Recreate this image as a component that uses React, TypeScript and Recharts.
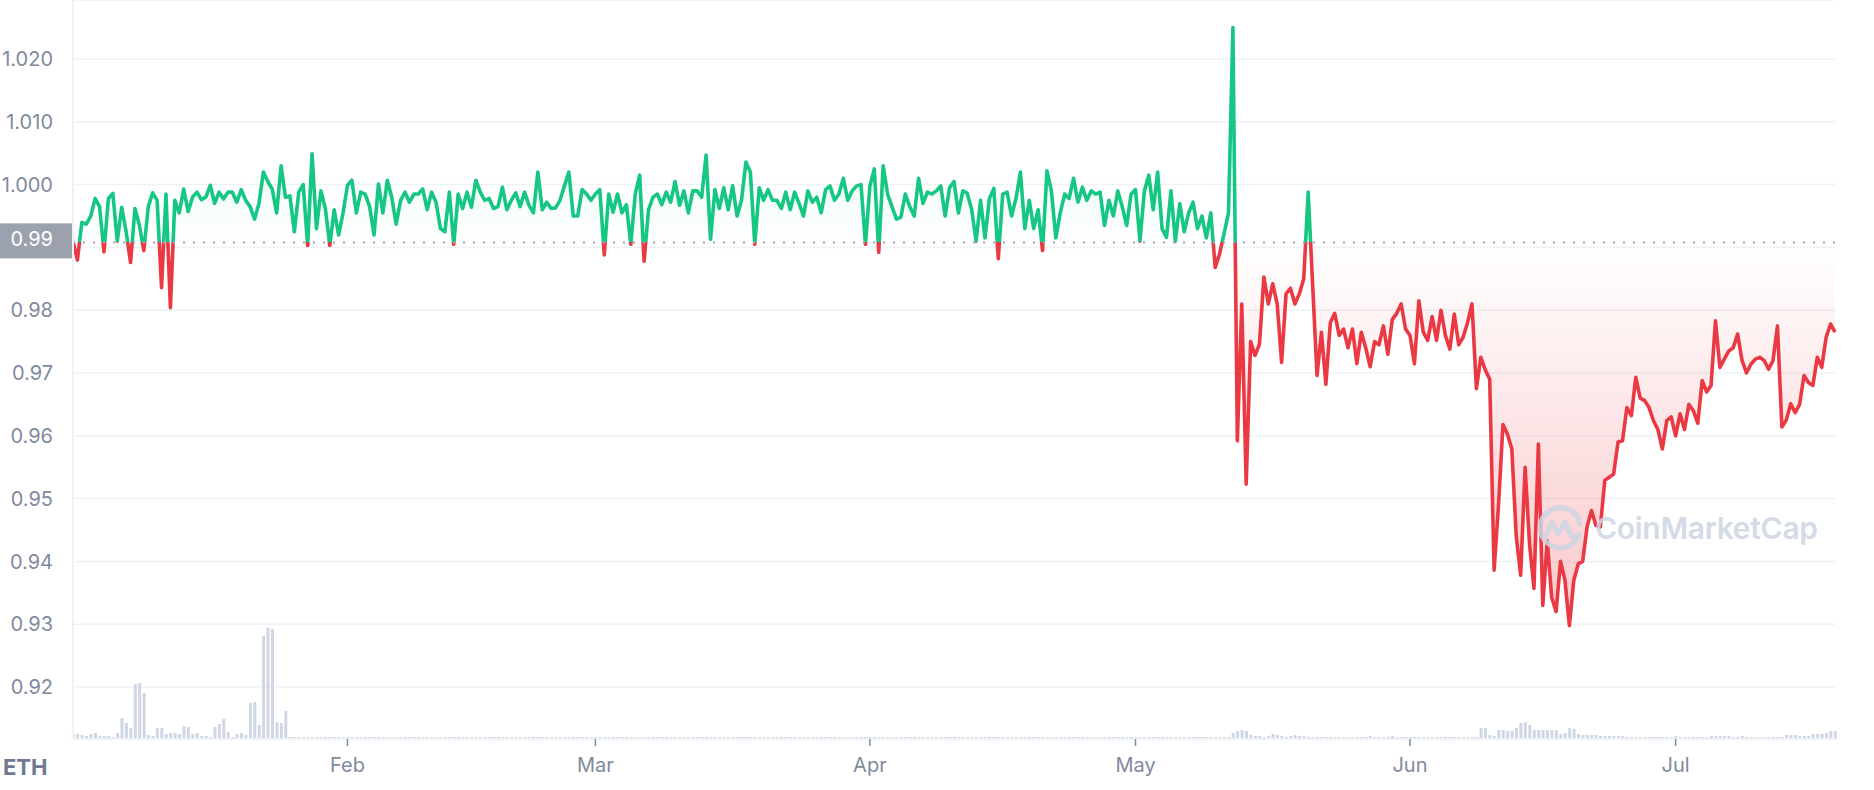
import {
  ComposedChart,
  Area,
  Bar,
  XAxis,
  YAxis,
  CartesianGrid,
  ReferenceLine,
} from "recharts";

// stETH / ETH, two samples per day, 1 Jan -> 18 Jul
const price = [
  0.9910, 0.9880, 0.9940, 0.9937, 0.9950, 0.9978, 0.9965, 0.9893, 0.9978, 0.9986,
  0.9910, 0.9964, 0.9925, 0.9876, 0.9962, 0.9935, 0.9895, 0.9965, 0.9987, 0.9975,
  0.9836, 0.9985, 0.9804, 0.9975, 0.9955, 0.9993, 0.9957, 0.9980, 0.9988, 0.9976,
  0.9980, 0.9999, 0.9970, 0.9988, 0.9977, 0.9988, 0.9988, 0.9972, 0.9992, 0.9975,
  0.9965, 0.9945, 0.9970, 1.0020, 1.0005, 0.9993, 0.9955, 1.0030, 0.9980, 0.9982,
  0.9925, 0.9988, 1.0000, 0.9903, 1.0049, 0.9930, 0.9990, 0.9962, 0.9903, 0.9960,
  0.9920, 0.9955, 0.9999, 1.0007, 0.9955, 0.9988, 0.9985, 0.9965, 0.9920, 1.0001,
  0.9955, 1.0007, 0.9980, 0.9937, 0.9975, 0.9988, 0.9972, 0.9985, 0.9985, 0.9993,
  0.9960, 0.9988, 0.9972, 0.9930, 0.9925, 0.9988, 0.9905, 0.9985, 0.9962, 0.9988,
  0.9964, 1.0007, 0.9988, 0.9975, 0.9978, 0.9962, 0.9965, 0.9996, 0.9960, 0.9975,
  0.9987, 0.9965, 0.9988, 0.9967, 0.9955, 1.0020, 0.9960, 0.9972, 0.9962, 0.9963,
  0.9975, 0.9998, 1.0020, 0.9950, 0.9950, 0.9992, 0.9985, 0.9975, 0.9985, 0.9992,
  0.9888, 0.9985, 0.9956, 0.9985, 0.9955, 0.9968, 0.9905, 0.9985, 1.0015, 0.9878,
  0.9960, 0.9980, 0.9985, 0.9968, 0.9988, 0.9972, 1.0005, 0.9967, 0.9990, 0.9955,
  0.9990, 0.9990, 0.9980, 1.0047, 0.9913, 0.9992, 0.9962, 0.9995, 0.9960, 0.9998,
  0.9950, 0.9975, 1.0036, 1.0020, 0.9905, 0.9995, 0.9975, 0.9992, 0.9975, 0.9975,
  0.9962, 0.9988, 0.9960, 0.9988, 0.9970, 0.9950, 0.9990, 0.9972, 0.9980, 0.9955,
  0.9992, 0.9998, 0.9975, 0.9985, 1.0010, 0.9975, 0.9990, 0.9998, 1.0000, 0.9905,
  0.9998, 1.0025, 0.9892, 1.0030, 0.9985, 0.9965, 0.9945, 0.9948, 0.9985, 0.9965,
  0.9950, 1.0010, 0.9970, 0.9988, 0.9985, 0.9990, 0.9998, 0.9950, 0.9995, 1.0005,
  0.9955, 0.9990, 0.9986, 0.9960, 0.9910, 0.9975, 0.9915, 0.9978, 0.9994, 0.9882,
  0.9985, 0.9988, 0.9950, 0.9978, 1.0020, 0.9930, 0.9975, 0.9930, 0.9960, 0.9895,
  1.0022, 0.9990, 0.9915, 0.9955, 0.9985, 0.9978, 1.0010, 0.9972, 0.9996, 0.9975,
  0.9990, 0.9985, 0.9988, 0.9935, 0.9975, 0.9950, 0.9990, 0.9965, 0.9935, 0.9985,
  0.9992, 0.9910, 0.9990, 1.0015, 0.9960, 1.0020, 0.9930, 0.9916, 0.9990, 0.9910,
  0.9970, 0.9925, 0.9955, 0.9972, 0.9930, 0.9950, 0.9915, 0.9955, 0.9868, 0.9890,
  0.9922, 0.9955, 1.0250, 0.9592, 0.9810, 0.9523, 0.9750, 0.9728, 0.9746, 0.9853,
  0.9810, 0.9842, 0.9810, 0.9717, 0.9826, 0.9835, 0.9810, 0.9826, 0.9850, 0.9988,
  0.9842, 0.9696, 0.9765, 0.9682, 0.9780, 0.9795, 0.9760, 0.9770, 0.9740, 0.9770,
  0.9715, 0.9765, 0.9740, 0.9710, 0.9750, 0.9745, 0.9775, 0.9730, 0.9785, 0.9795,
  0.9810, 0.9770, 0.9760, 0.9715, 0.9815, 0.9765, 0.9752, 0.9790, 0.9752, 0.9800,
  0.9760, 0.9738, 0.9794, 0.9745, 0.9757, 0.9780, 0.9810, 0.9675, 0.9725, 0.9705,
  0.9690, 0.9386, 0.9490, 0.9618, 0.9603, 0.9579, 0.9440, 0.9378, 0.9550, 0.9428,
  0.9357, 0.9587, 0.9330, 0.9433, 0.9343, 0.9320, 0.9400, 0.9370, 0.9298, 0.9370,
  0.9396, 0.9400, 0.9455, 0.9481, 0.9457, 0.9455, 0.9529, 0.9534, 0.9539, 0.9590,
  0.9592, 0.9645, 0.9632, 0.9693, 0.9660, 0.9656, 0.9645, 0.9624, 0.9610, 0.9579,
  0.9624, 0.9630, 0.9600, 0.9635, 0.9610, 0.9650, 0.9640, 0.9620, 0.9688, 0.9670,
  0.9680, 0.9783, 0.9709, 0.9722, 0.9735, 0.9740, 0.9762, 0.9720, 0.9700, 0.9714,
  0.9722, 0.9725, 0.9720, 0.9706, 0.9720, 0.9775, 0.9614, 0.9625, 0.9651, 0.9637,
  0.9650, 0.9696, 0.9685, 0.9680, 0.9725, 0.9709, 0.9757, 0.9778, 0.9765,
];

// volume, relative units (no axis shown)
const volume = [
  5, 5, 4, 3, 5, 6, 3, 3, 3, 2,
  6, 21, 16, 11, 55, 56, 46, 4, 3, 11,
  11, 5, 6, 6, 5, 13, 12, 5, 6, 3,
  3, 2, 12, 15, 20, 7, 2, 5, 6, 4,
  36, 37, 14, 103, 111, 110, 17, 16, 28, 2,
  2, 2, 2, 2, 2, 2, 2, 2, 2, 2,
  2, 2, 2, 2, 2, 2, 2, 2, 2, 2,
  2, 2, 2, 2, 2, 2, 2, 2, 2, 2,
  2, 2, 2, 2, 2, 2, 2, 2, 2, 2,
  2, 2, 2, 2, 2, 2, 2, 2, 2, 2,
  2, 2, 2, 2, 2, 2, 2, 2, 2, 2,
  2, 2, 2, 2, 2, 2, 2, 2, 2, 2,
  2, 2, 2, 2, 2, 2, 2, 2, 2, 2,
  2, 2, 2, 2, 2, 2, 2, 2, 2, 2,
  2, 2, 2, 2, 2, 2, 2, 2, 2, 2,
  2, 2, 2, 2, 2, 2, 2, 2, 2, 2,
  2, 2, 2, 2, 2, 2, 2, 2, 2, 2,
  2, 2, 2, 2, 2, 2, 2, 2, 2, 2,
  2, 2, 2, 2, 2, 2, 2, 2, 2, 2,
  2, 2, 2, 2, 2, 2, 2, 2, 2, 2,
  2, 2, 2, 2, 2, 2, 2, 2, 2, 2,
  2, 2, 2, 2, 2, 2, 2, 2, 2, 2,
  2, 2, 2, 2, 2, 2, 2, 2, 2, 2,
  2, 2, 2, 2, 2, 2, 2, 2, 2, 2,
  2, 2, 2, 2, 2, 2, 2, 2, 2, 2,
  2, 2, 2, 2, 2, 2, 2, 2, 2, 2,
  2, 2, 6, 8, 9, 8, 4, 3, 3, 2,
  3, 5, 4, 3, 2, 3, 4, 3, 3, 2,
  2, 2, 2, 2, 2, 2, 2, 2, 2, 2,
  2, 2, 2, 3, 2, 2, 2, 2, 3, 2,
  2, 2, 2, 2, 2, 2, 2, 2, 2, 2,
  2, 2, 2, 2, 2, 2, 2, 2, 11, 11,
  4, 3, 9, 9, 8, 8, 11, 16, 17, 14,
  9, 9, 9, 9, 9, 9, 5, 6, 11, 10,
  5, 4, 4, 4, 4, 3, 3, 3, 3, 3,
  3, 2, 2, 2, 2, 2, 2, 2, 2, 2,
  2, 2, 3, 2, 2, 2, 2, 2, 2, 2,
  3, 3, 3, 3, 3, 2, 2, 3, 2, 2,
  2, 2, 2, 2, 2, 2, 2, 4, 4, 4,
  3, 3, 3, 5, 5, 5, 6, 8, 8,
];

// index of the first sample of each month
const monthTicks = [62, 118, 180, 240, 302, 362];
const monthLabels = ["Feb", "Mar", "Apr", "May", "Jun", "Jul"];

const priceTicks = [0.92, 0.93, 0.94, 0.95, 0.96, 0.97, 0.98, 0.99, 1.0, 1.01, 1.02];
const openPrice = 0.9908;

const GREEN = "#16c784";
const RED = "#ea3943";
const GRAY = "#808a9d";
const GRID = "#eff2f5";

const data = price.map((p, i) => ({ i, price: p, volume: volume[i] }));

const pMax = Math.max(...price);
const pMin = Math.min(...price);
// where the open price falls inside the line's bounding box
const split = (pMax - openPrice) / (pMax - pMin);
const volMax = Math.max(...volume);

const fmtPrice = (v: number) => {
  if (v === 0.99) return ""; // hidden under the open price tag
  return v >= 1 ? v.toFixed(3) : v.toFixed(2);
};

// grey tag on the y axis showing the open price
function PriceTag(props: any) {
  const vb = props.viewBox || {};
  const x = vb.x ?? 73;
  const y = vb.y ?? 0;
  return (
    <g>
      <rect x={x - 73} y={y - 19} width={73} height={35} fill="#9ba1ad" />
      <text
        x={x - 20}
        y={y - 1.5}
        textAnchor="end"
        dominantBaseline="middle"
        fill="#ffffff"
        fontSize={20}
        fontFamily="Inter, sans-serif"
      >
        {openPrice.toFixed(2)}
      </text>
    </g>
  );
}

function Watermark() {
  return (
    <div
      style={{
        position: "absolute",
        left: 1535,
        top: 503,
        display: "flex",
        alignItems: "center",
        gap: 10,
        opacity: 0.85,
        pointerEvents: "none",
      }}
    >
      <svg width={50} height={50} viewBox="0 0 50 50">
        <path
          d="M44 32 A20 20 0 1 1 45 21"
          fill="none"
          stroke="#cdd5e3"
          strokeWidth={5}
          strokeLinecap="round"
        />
        <path
          d="M10 34 L17 19 L23 31 L30 19 L35 31 Q38 37 44 32"
          fill="none"
          stroke="#cdd5e3"
          strokeWidth={5}
          strokeLinejoin="round"
          strokeLinecap="round"
        />
      </svg>
      <span
        style={{
          fontFamily: "Inter, sans-serif",
          fontWeight: 600,
          fontSize: 30,
          color: "#cdd5e3",
          letterSpacing: -0.3,
        }}
      >
        CoinMarketCap
      </span>
    </div>
  );
}

export default function App() {
  return (
    <div
      style={{
        position: "absolute",
        left: 0,
        top: 0,
        width: 1874,
        height: 790,
        background: "#ffffff",
        fontFamily: "Inter, sans-serif",
      }}
    >
      <ComposedChart
        width={1874}
        height={790}
        data={data}
        margin={{ top: 0, right: 39, bottom: 0, left: 0 }}
      >
        <defs>
          <linearGradient id="priceStroke" x1="0" y1="0" x2="0" y2="1">
            <stop offset={0} stopColor={GREEN} />
            <stop offset={split} stopColor={GREEN} />
            <stop offset={split} stopColor={RED} />
            <stop offset={1} stopColor={RED} />
          </linearGradient>
          <linearGradient id="priceFill" x1="0" y1="0" x2="0" y2="1">
            <stop offset={0} stopColor={GREEN} stopOpacity={0.22} />
            <stop offset={split} stopColor={GREEN} stopOpacity={0} />
            <stop offset={split} stopColor={RED} stopOpacity={0} />
            <stop offset={1} stopColor={RED} stopOpacity={0.28} />
          </linearGradient>
        </defs>

        <CartesianGrid
          yAxisId="price"
          vertical={false}
          stroke={GRID}
          strokeWidth={1.5}
        />

        <XAxis
          dataKey="i"
          type="number"
          domain={[0, 398]}
          ticks={monthTicks}
          interval={0}
          tickFormatter={(v: number) => monthLabels[monthTicks.indexOf(v)]}
          height={51}
          axisLine={{ stroke: GRID, strokeWidth: 2 }}
          tickLine={{ stroke: GRAY, strokeWidth: 1.5 }}
          tickSize={7}
          tickMargin={12}
          tick={{ fill: GRAY, fontSize: 20, fontFamily: "Inter, sans-serif" }}
        />
        <YAxis
          yAxisId="price"
          type="number"
          domain={[0.91172, 1.0294]}
          ticks={priceTicks}
          interval={0}
          allowDataOverflow
          width={73}
          axisLine={{ stroke: GRID, strokeWidth: 2 }}
          tickLine={false}
          tickSize={0}
          tickMargin={20}
          tickFormatter={fmtPrice}
          tick={{ fill: GRAY, fontSize: 20, fontFamily: "Inter, sans-serif" }}
        />
        {/* volume bars only use the bottom ~15% of the plot */}
        <YAxis yAxisId="vol" hide domain={[0, volMax * 6.65]} />

        <Bar
          yAxisId="vol"
          dataKey="volume"
          fill="#cfd6e4"
          barSize={3}
          isAnimationActive={false}
        />

        <Area
          yAxisId="price"
          type="linear"
          dataKey="price"
          baseValue={openPrice}
          stroke="url(#priceStroke)"
          strokeWidth={3.6}
          strokeLinejoin="round"
          fill="url(#priceFill)"
          fillOpacity={1}
          dot={false}
          activeDot={false}
          isAnimationActive={false}
        />

        <ReferenceLine
          yAxisId="price"
          y={openPrice}
          stroke="#a1a7bb"
          strokeWidth={2}
          strokeDasharray="2 8"
          label={(p: any) => <PriceTag {...p} />}
        />
      </ComposedChart>

      <div
        style={{
          position: "absolute",
          left: 3,
          top: 753,
          fontWeight: 700,
          fontSize: 22,
          color: "#6f7a90",
          lineHeight: "28px",
        }}
      >
        ETH
      </div>
      <Watermark />
    </div>
  );
}
